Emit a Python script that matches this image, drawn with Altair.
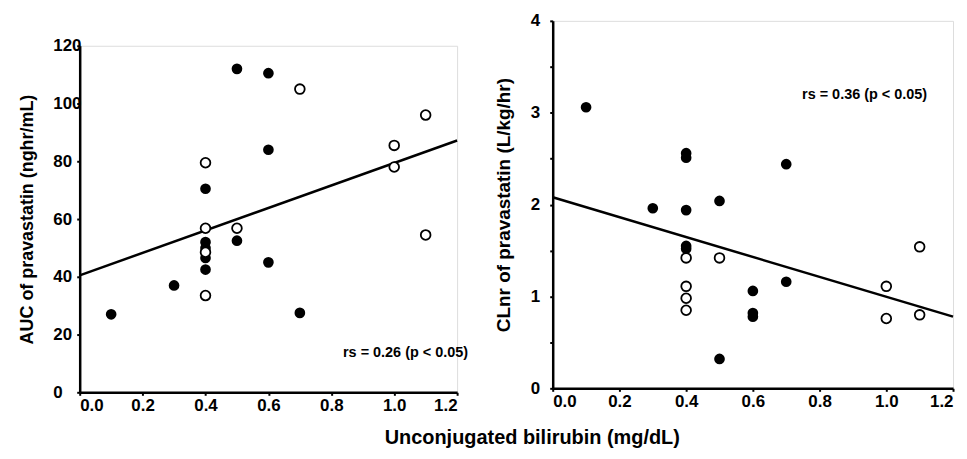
import altair as alt
import pandas as pd

FONT = "Liberation Sans"

# Left panel: AUC of pravastatin
auc_filled_x = [0.1, 0.3, 0.4, 0.4, 0.4, 0.4, 0.4, 0.5, 0.5, 0.6, 0.6, 0.6, 0.7]
auc_filled_y = [27, 37, 70.5, 52, 50, 46.5, 42.5, 112, 52.5, 110.5, 84, 45, 27.5]
auc_open_x = [0.4, 0.4, 0.4, 0.4, 0.5, 0.7, 1.0, 1.0, 1.1, 1.1]
auc_open_y = [79.5, 56.8, 48.5, 33.5, 56.8, 105, 85.5, 78, 96, 54.5]
auc_fit_x = [0.0, 1.2]
auc_fit_y = [40.5, 87.2]

# Right panel: CLnr of pravastatin
cl_filled_x = [0.1, 0.3, 0.4, 0.4, 0.4, 0.4, 0.4, 0.5, 0.5, 0.6, 0.6, 0.6, 0.7, 0.7]
cl_filled_y = [3.06, 1.96, 2.56, 2.51, 1.94, 1.55, 1.52, 2.04, 0.32, 1.06, 0.82, 0.78, 2.44, 1.16]
cl_open_x = [0.4, 0.4, 0.4, 0.4, 0.5, 1.0, 1.0, 1.1, 1.1]
cl_open_y = [1.42, 1.11, 0.98, 0.85, 1.42, 1.11, 0.76, 1.54, 0.80]
cl_fit_x = [0.0, 1.2]
cl_fit_y = [2.08, 0.78]

x_ticks = [round(i * 0.1, 1) for i in range(13)]
auc_ticks = list(range(0, 121, 10))
cl_ticks = [i * 0.5 for i in range(9)]


def axis_common(**kw):
    base = dict(
        domainColor="black", domainWidth=2.5, tickColor="black", tickWidth=2,
        tickSize=3, grid=False, labelFont=FONT, labelFontWeight="bold",
        labelFontSize=17, labelColor="black", titleFont=FONT,
        titleFontWeight="bold", titleFontSize=18, titleColor="black",
        labelOverlap=False,
    )
    base.update(kw)
    return alt.Axis(**base)


x_axis = axis_common(values=x_ticks, title=None,
                     labelExpr="round(datum.value*10) % 2 == 0 ? format(datum.value, '.1f') : ''",
                     labelPadding=2)


def panel(fx, fy, ox, oy, lx, ly, ymax, yticks, ylabel_expr, ytitle, note, note_x, note_y,
          w, h, y_axis_kw):
    df_f = pd.DataFrame({"x": fx, "y": fy})
    df_o = pd.DataFrame({"x": ox, "y": oy})
    df_l = pd.DataFrame({"x": lx, "y": ly})
    xs = alt.Scale(domain=[0, 1.2], nice=False, zero=False)
    ys = alt.Scale(domain=[0, ymax], nice=False)
    y_axis = axis_common(values=yticks, title=ytitle, labelExpr=ylabel_expr, **y_axis_kw)
    line = alt.Chart(df_l).mark_line(color="black", strokeWidth=2.5).encode(
        x=alt.X("x:Q", scale=xs, axis=x_axis),
        y=alt.Y("y:Q", scale=ys, axis=y_axis),
    )
    filled = alt.Chart(df_f).mark_point(filled=True, color="black", size=115, opacity=1,
                                        shape="circle").encode(
        x=alt.X("x:Q", scale=xs), y=alt.Y("y:Q", scale=ys)
    )
    opened = alt.Chart(df_o).mark_point(filled=True, fill="white", stroke="black", strokeWidth=1.8,
                                        size=95, opacity=1, shape="circle").encode(
        x=alt.X("x:Q", scale=xs), y=alt.Y("y:Q", scale=ys)
    )
    txt = alt.Chart(pd.DataFrame({"t": [note]})).mark_text(
        font=FONT, fontWeight="bold", fontSize=14.5, align="right", baseline="middle", color="black"
    ).encode(text="t:N", x=alt.value(note_x), y=alt.value(note_y))
    return alt.layer(line, filled, opened, txt).properties(width=w, height=h)


left_panel = panel(auc_filled_x, auc_filled_y, auc_open_x, auc_open_y, auc_fit_x, auc_fit_y,
                   120, auc_ticks, "datum.value % 20 == 0 ? datum.value : ''",
                   "AUC of pravastatin (nghr/mL)", "rs = 0.26 (p < 0.05)", 390, 309, 379, 348,
                   dict(labelAlign="left", labelPadding=24, titlePadding=16))
right_panel = panel(cl_filled_x, cl_filled_y, cl_open_x, cl_open_y, cl_fit_x, cl_fit_y,
                    4, cl_ticks, "datum.value % 1 == 0 ? datum.value : ''",
                    "CLnr of pravastatin (L/kg/hr)", "rs = 0.36 (p < 0.05)", 376, 74, 402, 369,
                    dict(labelPadding=10, titlePadding=17, titleFontSize=19))

spacer = alt.Chart(pd.DataFrame({"a": [0]})).mark_text(text=" ", opacity=0, fontSize=1).encode(
    x=alt.value(0), y=alt.value(1)
).properties(width=1, height=15, view=alt.ViewBackground(stroke=None, fill=None, strokeWidth=0))

left = alt.vconcat(spacer, left_panel, spacing=0)

chart = alt.hconcat(left, right_panel, spacing=25).properties(
    padding={"left": 10, "top": 2, "right": 0, "bottom": 0},
    title=alt.TitleParams("Unconjugated bilirubin (mg/dL)", orient="bottom", anchor="middle",
                          font=FONT, fontWeight="bold", fontSize=20, color="black", offset=14,
                          dx=44)
).configure_view(stroke=None, strokeWidth=0).configure(background="white")

chart.save("out.html", embed_options={"renderer": "svg", "actions": False})
